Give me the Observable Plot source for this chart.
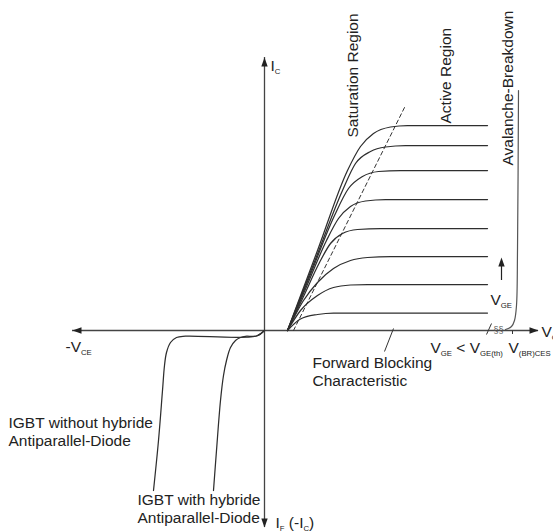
<!DOCTYPE html>
<html><head><meta charset="utf-8">
<script src="https://cdn.jsdelivr.net/npm/d3@7"></script>
<script src="https://cdn.jsdelivr.net/npm/@observablehq/plot@0.6"></script>
<style>html,body{margin:0;padding:0;background:#fff;} #chart svg{display:block;}</style>
</head><body><div id="chart"></div>
<script>
// Output characteristic curves (V_CE, I_C) in arbitrary units, one per V_GE step
const curveVGE1 = [[2.3,0],[5.3,8.0],[8.3,16.0],[9.6,18.4],[10.9,19.7],[12.6,20.35],[14.3,20.5],[22.3,20.5]];
const curveVGE2 = [[2.3,0],[5.05,7.0],[7.8,14.0],[9.1,16.7],[10.6,17.9],[12.1,18.35],[14.1,18.5],[22.3,18.5]];
const curveVGE3 = [[2.3,0],[4.65,5.75],[7.0,11.5],[8.4,14.2],[9.8,15.4],[11.4,15.9],[13.6,16.0],[22.3,16.0]];
const curveVGE4 = [[2.3,0],[4.25,4.5],[6.2,9.0],[7.4,11.2],[8.6,12.4],[10.1,12.95],[12.1,13.1],[22.3,13.1]];
const curveVGE5 = [[2.3,0],[3.9,3.4],[5.5,6.8],[6.6,8.7],[7.8,9.7],[9.3,10.1],[11.6,10.2],[22.3,10.2]];
const curveVGE6 = [[2.3,0],[3.9,3.0],[5.3,4.8],[6.9,6.2],[8.6,7.0],[10.3,7.3],[12.6,7.4],[22.3,7.4]];
const curveVGE7 = [[2.3,0],[3.6,2.0],[5.3,3.5],[6.9,4.3],[8.6,4.55],[10.3,4.6],[22.3,4.6]];
const curveVGE8 = [[2.3,0],[3.6,1.15],[5.3,1.6],[6.9,1.75],[22.3,1.75]];
// Saturation / active boundary (dashed)
const saturationBoundary = [[2.9,0],[14.1,22.5]];
// Avalanche breakdown
const breakdownCurve = [[24.1,0.1],[24.7,0.4],[25.0,1.0],[25.2,2.5],[25.3,8],[25.4,24]];
// Reverse conduction
const reverseWithDiode = [[0,0],[-0.8,-0.55],[-1.9,-0.58],[-2.4,-0.7],[-2.9,-1.0],[-3.4,-1.7],[-3.8,-3.0],[-4.1,-4.5],[-4.4,-7.0],[-4.8,-12],[-5.1,-16]];
const reverseWithoutDiode = [[0,0],[-0.8,-0.55],[-7.9,-0.57],[-8.8,-0.7],[-9.4,-1.2],[-9.8,-2.2],[-10.0,-3.5],[-10.2,-6],[-10.6,-11],[-11.1,-16]];
// Axis extents
const xAxisExtent = [-19.2, 27.4];
const yAxisExtent = [-19.7, 27.3];
const vgeArrow = [23.7, 5.0, 7.3];

// Texts
const horizontalLabels = [
  {text: "I_{C}", V: 0.6, I: 26.0},
  {text: "V_{GE}", V: 22.6, I: 2.6},
  {text: "-V_{CE}", V: -19.9, I: -2.1},
  {text: "V_{GE} < V_{GE(th)}", V: 16.6, I: -2.2},
  {text: "V_{(BR)CES}", V: 24.4, I: -2.2},
  {text: "V_{C}", V: 27.7, I: -0.6},
  {text: "I_{F} (-I_{C})", V: 1.1, I: -19.7},
  {text: "Forward Blocking\nCharacteristic", V: 4.8, I: -5.5},
  {text: "IGBT without hybride\nAntiparallel-Diode", V: -25.6, I: -11.5},
  {text: "IGBT with hybride\nAntiparallel-Diode", V: -12.7, I: -19.2}
];
const verticalLabels = [
  {text: "Saturation Region", V: 9.3, I: 19.3},
  {text: "Active Region", V: 18.6, I: 20.7},
  {text: "Avalanche-Breakdown", V: 24.8, I: 16.5}
];
const leaderLines = [
  {V1: 12.9, I1: 0.2, V2: 12.0, I2: -2.1},
  {V1: 22.2, I1: -0.4, V2: 22.7, I2: 0.7},
  {V1: 24.8, I1: 0, V2: 24.8, I2: -0.35}
];

const toRows = (id, pts) => pts.map(([V, I]) => ({id, V, I}));
const fwdRows = [curveVGE1, curveVGE2, curveVGE3, curveVGE4, curveVGE5, curveVGE6, curveVGE7, curveVGE8]
  .flatMap((c, k) => toRows("vge" + (k + 1), c));
const revRows = [...toRows("with", reverseWithDiode), ...toRows("without", reverseWithoutDiode)];

const heads = [
  {V: xAxisExtent[1], I: 0, r: 90},
  {V: xAxisExtent[0], I: 0, r: 270},
  {V: 0, I: yAxisExtent[1], r: 0},
  {V: 0, I: yAxisExtent[0], r: 180},
  {V: vgeArrow[0], I: vgeArrow[2], r: 0}
];
const headSymbol = {draw(ctx) { ctx.moveTo(0, 0); ctx.lineTo(3.2, 9); ctx.lineTo(-3.2, 9); ctx.closePath(); }};

const ink = "#222";
const font = "Liberation Sans, Arial, sans-serif";

const chart = Plot.plot({
  width: 553, height: 532,
  margin: 0,
  x: {domain: [-26.4, 28.9], axis: null},
  y: {domain: [-20.2, 33], axis: null},
  style: {background: "#fff", color: ink},
  marks: [
    Plot.ruleY([0], {x1: xAxisExtent[0], x2: xAxisExtent[1], stroke: "#444", strokeWidth: 1.3}),
    Plot.ruleX([0], {y1: yAxisExtent[0], y2: yAxisExtent[1], stroke: "#444", strokeWidth: 1.3}),
    Plot.ruleX([vgeArrow[0]], {y1: vgeArrow[1], y2: vgeArrow[2] - 0.5, stroke: ink, strokeWidth: 1.2}),
    Plot.line(saturationBoundary, {x: d => d[0], y: d => d[1], stroke: "#333", strokeWidth: 1, strokeDasharray: "4,3"}),
    Plot.line(fwdRows, {x: "V", y: "I", z: "id", curve: "monotone-x", stroke: "#2e2e2e", strokeWidth: 1.25}),
    Plot.line(revRows, {x: "V", y: "I", z: "id", curve: "catmull-rom", stroke: "#2e2e2e", strokeWidth: 1.25}),
    Plot.line(breakdownCurve, {x: d => d[0], y: d => d[1], curve: "catmull-rom", stroke: "#555", strokeWidth: 1.2}),
    Plot.link(leaderLines, {x1: "V1", y1: "I1", x2: "V2", y2: "I2", stroke: "#333", strokeWidth: 1}),
    Plot.dot(heads, {x: "V", y: "I", rotate: "r", symbol: headSymbol, fill: ink, stroke: "none", r: 4}),
    Plot.text(["§§"], {x: 23.4, y: 0, fontSize: 9, fill: "#555", fontFamily: font, textAnchor: "middle"}),
    Plot.text(horizontalLabels, {x: "V", y: "I", text: "text", textAnchor: "start", lineAnchor: "bottom",
      fontSize: 15.5, lineHeight: 1.13, fontFamily: font, fill: ink}),
    Plot.text(verticalLabels, {x: "V", y: "I", text: "text", textAnchor: "start", lineAnchor: "bottom", rotate: -90,
      fontSize: 15.5, fontFamily: font, fill: ink})
  ]
});

function subscriptify(svg) {
  const NS = "http://www.w3.org/2000/svg";
  svg.querySelectorAll("text").forEach(t => {
    const nodes = t.querySelectorAll("tspan").length ? Array.from(t.querySelectorAll("tspan")) : [t];
    nodes.forEach(n => {
      const s = n.textContent;
      if (!s.includes("_{")) return;
      n.textContent = "";
      let afterSub = false;
      s.split(/(_\{[^}]*\})/).filter(Boolean).forEach(p => {
        const sp = document.createElementNS(NS, "tspan");
        if (p.startsWith("_{")) {
          sp.textContent = p.slice(2, -1);
          sp.setAttribute("font-size", "0.5em");
          sp.setAttribute("dy", "3");
          afterSub = true;
        } else {
          sp.textContent = p;
          if (afterSub) sp.setAttribute("dy", "-3");
          afterSub = false;
        }
        n.appendChild(sp);
      });
    });
  });
}
subscriptify(chart);
document.getElementById("chart").appendChild(chart);
</script></body></html>
